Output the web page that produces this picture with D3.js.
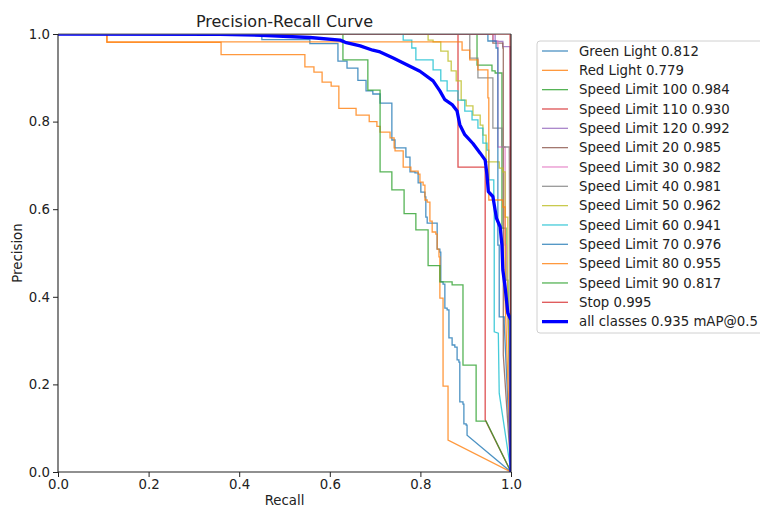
<!DOCTYPE html>
<html><head><meta charset="utf-8">
<script src="https://cdn.jsdelivr.net/npm/d3@7"></script>
<style>
body{margin:0;background:#fff;}
svg text{font-family:"DejaVu Sans",sans-serif;fill:#222;}
</style></head>
<body><svg id="c" width="760" height="508"></svg>
<script>
// ---- data: [recall, precision] ; third element 1 = straight (interpolated) segment, otherwise a step
const classNames = ["Green Light","Red Light","Speed Limit 100","Speed Limit 110","Speed Limit 120","Speed Limit 20","Speed Limit 30","Speed Limit 40","Speed Limit 50","Speed Limit 60","Speed Limit 70","Speed Limit 80","Speed Limit 90","Stop"];
const classAP = ["0.812","0.779","0.984","0.930","0.992","0.985","0.982","0.981","0.962","0.941","0.976","0.955","0.817","0.995"];
const classColors = ["#1f77b4","#ff7f0e","#2ca02c","#d62728","#9467bd","#8c564b","#e377c2","#7f7f7f","#bcbd22","#17becf","#1f77b4","#ff7f0e","#2ca02c","#d62728"];
const allClassesLabel = "all classes 0.935 mAP@0.5";
const xTicks = [0,0.2,0.4,0.6,0.8,1.0];
const yTicks = [0,0.2,0.4,0.6,0.8,1.0];

const greenLight = [[0,1],[0.450,0.987],[0.556,0.978],[0.618,0.938],[0.638,0.922],[0.662,0.894],[0.680,0.870],[0.695,0.863],[0.711,0.842],[0.737,0.758],[0.744,0.740],[0.768,0.719],[0.777,0.685],[0.788,0.683],[0.795,0.660],[0.801,0.639],[0.810,0.628],[0.812,0.582],[0.815,0.568],[0.837,0.509],[0.843,0.502],[0.845,0.434],[0.850,0.429],[0.854,0.374],[0.859,0.370],[0.863,0.306],[0.870,0.290],[0.876,0.285],[0.881,0.256],[0.885,0.251],[0.887,0.160],[0.894,0.155],[0.896,0.110],[0.901,0.107],[0.903,0.084],[1,0,1]];
const redLight = [[0,1],[0.108,0.981],[0.360,0.953],[0.545,0.925],[0.565,0.913],[0.583,0.890],[0.603,0.881],[0.620,0.830],[0.658,0.815],[0.687,0.800],[0.704,0.789],[0.711,0.776],[0.733,0.763],[0.742,0.740],[0.744,0.733],[0.762,0.696],[0.779,0.687],[0.795,0.680],[0.799,0.662],[0.806,0.655],[0.810,0.621],[0.815,0.616],[0.821,0.573],[0.826,0.548],[0.834,0.543],[0.837,0.509],[0.841,0.491],[0.843,0.397],[0.850,0.196],[0.861,0.073],[1,0,1]];
const speed100 = [[0,1],[0.925,0.929],[0.958,0.916],[0.965,0.911],[0.980,0.557],[0.989,0.438],[0.993,0.438],[1,0,1]];
const speed110 = [[0,1],[0.883,0.696],[0.943,0.119],[1,0,1]];
const speed120 = [[0,1],[0.965,0.983],[0.982,0.971],[0.998,0.971],[1,0,1]];
const speed20 = [[0,1],[0.960,0.979],[0.982,0.968],[0.983,0.267],[1,0,1]];
const speed30 = [[0,1],[0.961,0.984],[0.971,0.742],[0.987,0.518],[0.990,0.518],[1,0,1]];
const speed40 = [[0,1],[0.909,0.945],[0.927,0.900],[0.960,0.785],[0.980,0.742],[0.996,0.742],[1,0,1]];
const speed50 = [[0,1],[0.817,0.986],[0.828,0.982],[0.845,0.961],[0.861,0.938],[0.868,0.916],[0.879,0.893],[0.890,0.849],[0.901,0.836],[0.916,0.815],[0.932,0.792],[0.938,0.769],[0.945,0.708],[0.974,0.694],[0.982,0.685],[0.987,0.582],[0.993,0.393],[1,0,1]];
const speed60 = [[0,1],[0.762,0.986],[0.781,0.968],[0.790,0.941],[0.828,0.918],[0.845,0.893],[0.859,0.870],[0.883,0.849],[0.898,0.824],[0.914,0.804],[0.927,0.785],[0.938,0.751],[0.947,0.735],[0.951,0.667],[0.962,0.610],[0.963,0.320],[0.972,0.317,1],[0.974,0.180,1],[1,0,1]];
const speed70 = [[0,1],[0.949,0.984],[0.967,0.968],[0.971,0.518],[0.974,0.354],[0.985,0.340],[1,0,1]];
const speed80 = [[0,1],[0.108,0.982],[0.892,0.963],[0.909,0.941],[0.927,0.918],[0.949,0.854],[0.951,0.621],[0.982,0.605],[0.987,0.393],[1,0,1]];
const speed90 = [[0,1],[0.629,0.941],[0.684,0.872],[0.711,0.685],[0.737,0.644],[0.764,0.590],[0.790,0.553],[0.817,0.471],[0.843,0.434],[0.870,0.427],[0.894,0.244],[0.923,0.116],[0.945,0.116],[1,0,1]];
const stopSign = [[0,1],[0.998,1],[1,0,1]];
const allClasses = [[0,1],[0.358,0.999],[0.450,0.997],[0.556,0.992],[0.623,0.986],[0.634,0.981],[0.667,0.973],[0.695,0.963],[0.711,0.959],[0.740,0.945],[0.770,0.930],[0.799,0.915],[0.828,0.893],[0.843,0.870],[0.854,0.850],[0.870,0.839],[0.881,0.824],[0.887,0.793],[0.898,0.770],[0.916,0.750],[0.932,0.728],[0.943,0.712],[0.947,0.678],[0.950,0.640],[0.960,0.629],[0.968,0.579],[0.976,0.560],[0.980,0.518],[0.982,0.461],[0.987,0.422],[0.993,0.363],[1.0,0.347],[1.0,0.0]];

const classSeries = [greenLight, redLight, speed100, speed110, speed120, speed20, speed30, speed40, speed50, speed60, speed70, speed80, speed90, stopSign];

// ---- layout
const svg = d3.select("#c");
const M = {l:58, r:511, t:34, b:472};
const x = d3.scaleLinear().domain([0,1]).range([M.l, M.r]);
const y = d3.scaleLinear().domain([0,1]).range([M.b, M.t]);

svg.append("defs").append("clipPath").attr("id","clip")
  .append("rect").attr("x",M.l).attr("y",M.t).attr("width",M.r-M.l).attr("height",M.b-M.t);

function stepPath(pts){
  let s = "M"+x(pts[0][0])+","+y(pts[0][1]);
  for(let i=1;i<pts.length;i++){
    const p = pts[i];
    if(p[2]===1){ s += "L"+x(p[0])+","+y(p[1]); }
    else { s += "H"+x(p[0])+"V"+y(p[1]); }
  }
  return s;
}

const g = svg.append("g").attr("clip-path","url(#clip)");
classSeries.forEach((pts,i)=>{
  g.append("path").attr("d",stepPath(pts)).attr("fill","none")
   .attr("stroke",classColors[i]).attr("stroke-width",1.3).attr("stroke-opacity",0.8)
   .attr("stroke-linejoin","miter");
});
g.append("path").attr("d", d3.line().x(d=>x(d[0])).y(d=>y(d[1]))(allClasses))
  .attr("fill","none").attr("stroke","#0000ff").attr("stroke-width",3.3).attr("stroke-linejoin","round");

// axes
const fmt = d3.format(".1f");
const ax = svg.append("g").attr("transform",`translate(0,${M.b})`)
  .call(d3.axisBottom(x).tickValues(xTicks).tickFormat(fmt).tickSize(5).tickPadding(3));
const ay = svg.append("g").attr("transform",`translate(${M.l},0)`)
  .call(d3.axisLeft(y).tickValues(yTicks).tickFormat(fmt).tickSize(5).tickPadding(3));
[ax,ay].forEach(a=>{
  a.select(".domain").remove();
  a.selectAll("line").attr("stroke","#222");
  a.selectAll("text").style("font-size","13.3px").style("fill","#222");
});
// spines
svg.append("line").attr("x1",M.l).attr("x2",M.r).attr("y1",M.t).attr("y2",M.t)
  .attr("stroke","#666").attr("stroke-width",1.1);
svg.append("line").attr("x1",M.r).attr("x2",M.r).attr("y1",M.t).attr("y2",M.b)
  .attr("stroke","#222").attr("stroke-width",1.1);
svg.append("line").attr("x1",M.l).attr("x2",M.l).attr("y1",M.t).attr("y2",M.b)
  .attr("stroke","#222").attr("stroke-width",1.1);
svg.append("line").attr("x1",M.l).attr("x2",M.r).attr("y1",M.b).attr("y2",M.b)
  .attr("stroke","#222").attr("stroke-width",1.1);

// labels
svg.append("text").attr("x",(M.l+M.r)/2).attr("y",27).attr("text-anchor","middle")
  .style("font-size","16px").text("Precision-Recall Curve");
svg.append("text").attr("x",(M.l+M.r)/2).attr("y",505).attr("text-anchor","middle")
  .style("font-size","13.3px").text("Recall");
svg.append("text").attr("transform",`translate(22,${(M.t+M.b)/2}) rotate(-90)`).attr("text-anchor","middle")
  .style("font-size","13.3px").text("Precision");

// legend
const lg = svg.append("g");
lg.append("rect").attr("x",537).attr("y",41).attr("width",240).attr("height",292).attr("rx",3)
  .attr("fill","#fff").attr("fill-opacity",0.8).attr("stroke","#d0d0d0");
const labels = classNames.map((n,i)=>n+" "+classAP[i]).concat([allClassesLabel]);
const colors = classColors.concat(["#0000ff"]);
labels.forEach((t,i)=>{
  const yy = 51 + i*19.33;
  const last = i===labels.length-1;
  lg.append("line").attr("x1",542).attr("x2",568).attr("y1",yy).attr("y2",yy)
    .attr("stroke",colors[i]).attr("stroke-width", last?3.3:1.3).attr("stroke-opacity", last?1:0.8);
  lg.append("text").attr("x",579).attr("y",yy+4.8).style("font-size","13.3px").text(t);
});
</script></body></html>
